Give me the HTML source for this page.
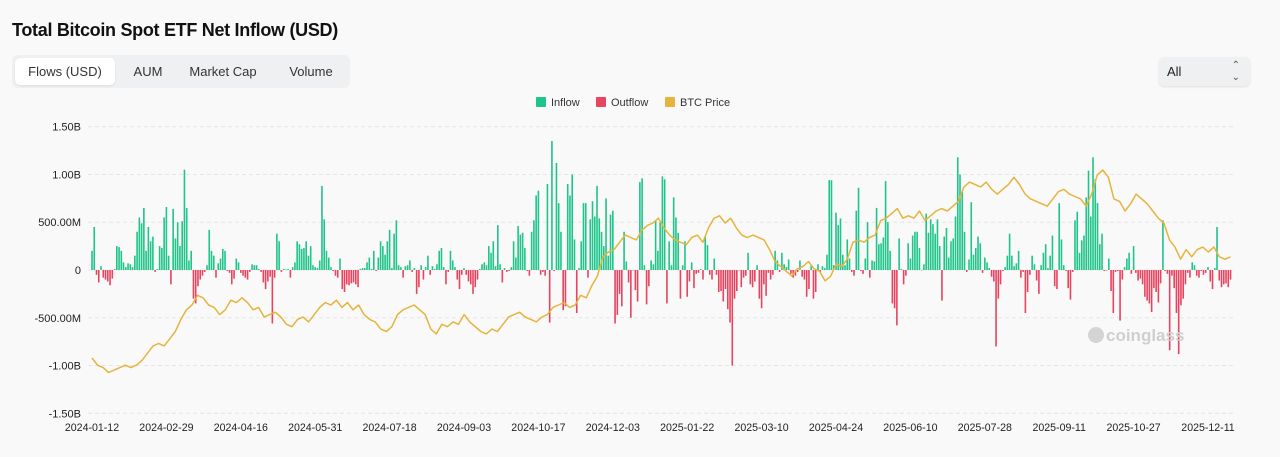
<!DOCTYPE html>
<html><head><meta charset="utf-8"><style>
body{margin:0;width:1280px;height:457px;background:#f9f9f9;font-family:"Liberation Sans",sans-serif;overflow:hidden;position:relative}
.title{position:absolute;left:12px;top:20px;font-size:18px;font-weight:bold;color:#111;letter-spacing:-0.3px}
.tabs{position:absolute;left:12px;top:55px;width:338px;height:33px;background:#eef0f2;border-radius:6px}
.tab{position:absolute;top:3px;height:27px;line-height:27px;font-size:13px;color:#333;text-align:center}
.tab.active{background:#fff;border-radius:5px;box-shadow:0 1px 2px rgba(0,0,0,.08)}
.sel{position:absolute;left:1159px;top:57px;width:91px;height:29px;background:#eef0f2;border-radius:5px;font-size:13px;line-height:29px;color:#222;box-shadow:0 1px 2px rgba(0,0,0,.1)}
</style></head><body>
<div class="title">Total Bitcoin Spot ETF Net Inflow (USD)</div>
<div class="tabs">
<div class="tab active" style="left:3px;width:100px">Flows (USD)</div>
<div class="tab" style="left:108px;width:56px">AUM</div>
<div class="tab" style="left:166px;width:90px">Market Cap</div>
<div class="tab" style="left:260px;width:78px">Volume</div>
</div>
<div class="sel"><span style="margin-left:8px">All</span><span style="position:absolute;right:10px;top:-6px;font-size:10px;color:#555">⌃</span><span style="position:absolute;right:10px;top:6px;font-size:10px;color:#555">⌄</span></div>
<svg id="chart" width="1280" height="457" style="position:absolute;left:0;top:0"></svg>
<script>
const yTicks=[1500,1000,500,0,-500,-1000,-1500];
const yTickLabels=["1.50B","1.00B","500.00M","0","-500.00M","-1.00B","-1.50B"];
const xTickLabels=["2024-01-12","2024-02-29","2024-04-16","2024-05-31","2024-07-18","2024-09-03","2024-10-17","2024-12-03","2025-01-22","2025-03-10","2025-04-24","2025-06-10","2025-07-28","2025-09-11","2025-10-27","2025-12-11"];
const flows=[
200,450,-50,-130,40,-80,-100,-120,-160,-90,10,250,240,200,80,30,70,60,30,150,400,550,490,650,200,450,300,350,-20,10,250,230,550,
660,150,-150,640,330,500,250,510,1050,650,100,200,-300,-350,-170,-100,-60,-20,50,420,200,150,-80,70,120,220,200,-10,-30,-150,-90,120,80,
-30,-60,-80,-100,-20,60,50,50,10,-20,-130,-200,-120,-70,-560,-80,380,300,-20,10,5,10,-80,30,80,300,270,220,230,300,150,250,50,
30,20,100,880,530,200,130,30,-10,-60,-80,120,-200,-230,-150,-160,-140,-130,-150,-180,10,20,20,80,130,10,200,-10,130,300,250,160,300,
420,20,380,520,50,30,-80,40,50,100,-20,20,-250,-180,50,-100,30,150,-50,40,10,60,200,230,30,-150,-20,200,100,30,-100,-200,-50,
20,-50,-120,-150,-250,-180,-100,10,60,80,50,250,180,300,40,470,60,-130,20,-20,-10,30,300,130,460,370,390,230,-10,-60,400,520,780,
830,-50,-20,-60,900,-550,1350,-10,1120,700,400,-420,-380,900,780,1000,320,-450,20,300,700,700,-80,530,720,560,880,540,400,250,750,150,580,
620,-560,-470,-250,-380,400,90,-130,-500,0,-210,-330,920,960,50,-360,-170,100,60,520,200,500,980,950,-350,300,50,760,550,390,-300,50,300,
-280,-120,80,-190,-40,-30,10,-100,350,260,-50,-100,120,-50,-230,-220,-330,-200,-410,-550,-1000,-300,-220,0,-180,-80,-60,180,-150,-180,-120,50,-300,
-400,-150,-270,-30,-100,-50,200,100,-20,180,60,30,110,-40,-80,-60,-20,100,-70,-100,-280,-200,50,-300,-230,60,-20,40,20,160,940,940,50,
600,470,540,160,50,320,120,-20,-60,620,860,-10,-40,120,500,-80,100,90,650,270,280,340,930,500,200,-350,-400,-580,330,10,-150,-60,280,
120,360,400,400,230,0,60,590,390,530,480,380,530,250,-320,350,440,130,300,330,560,1180,1000,820,400,-20,110,710,160,230,350,280,-30,
130,80,20,-70,-120,-800,-300,-150,-10,30,150,380,150,40,70,200,-80,-20,-450,-230,-50,150,60,-110,-250,50,180,270,20,150,360,-170,-200,
700,320,50,-10,-190,-310,-20,520,610,180,310,360,760,1040,560,1180,950,700,270,380,-10,-5,120,-220,-450,-20,-10,-530,-100,30,120,180,-40,
250,-30,-110,-90,-150,-280,-320,-350,-440,-190,-230,-340,-140,520,-10,-40,-840,-60,-190,-450,-880,-370,-300,-150,-30,-80,80,50,-60,-80,-10,-50,-30,
30,-120,-200,20,450,-110,-180,-150,-140,-180,-100];
const prices=[46,43,42,40,41,42,43,42,43,45,48,51,52,51,54,57,62,66,68,72,71,68,67,64,66,70,69,71,69,66,67,63,64,65,63,60,59,62,63,61,64,67,69,68,70,67,69,66,68,64,62,61,58,57,59,64,66,67,68,66,64,58,56,60,59,61,60,64,61,59,57,56,58,57,60,63,64,65,63,62,61,63,64,67,68,69,67,68,72,71,76,80,88,90,91,94,97,96,95,99,101,102,104,100,97,95,94,93,96,97,94,100,104,105,102,104,100,97,96,97,96,95,91,86,84,82,80,83,84,86,83,82,78,80,85,84,87,94,95,94,96,97,103,104,106,108,104,105,104,107,103,105,107,108,107,109,111,117,119,118,117,119,116,114,116,118,121,118,114,112,111,110,109,112,115,116,114,113,112,109,114,122,124,121,112,111,107,110,114,112,110,107,104,102,95,92,87,91,88,91,92,90,92,88,87,88];
const NS="http://www.w3.org/2000/svg";
const svg=document.getElementById('chart');
const X0=92,PITCH=74.4/33;
const xOf=i=>X0+i*PITCH;
const yOf=v=>270-v*(143.3/1500);
const yP=p=>358-(p-46)*2.41;
function mk(tag,attrs){const e=document.createElementNS(NS,tag);for(const k in attrs)e.setAttribute(k,attrs[k]);svg.appendChild(e);return e;}
yTicks.forEach((t,i)=>{
 const g=mk('line',{x1:88,x2:1236,y1:yOf(t),y2:yOf(t),stroke:'#e6e6e6','stroke-dasharray':'4 3'});
 
 
 const tx=mk('text',{x:81,y:yOf(t)+4,'text-anchor':'end','font-size':'11','fill':'#222'});
 tx.textContent=yTickLabels[i];
 
 
});
xTickLabels.forEach((l,i)=>{
 const tx=mk('text',{x:xOf(i*33),y:431,'text-anchor':'middle','font-size':'10.6','fill':'#222'});
 tx.textContent=l;
 
 
});
flows.forEach((v,i)=>{
 const y=yOf(Math.max(v,0)),h=Math.abs(yOf(v)-yOf(0));
 const r=mk('rect',{x:xOf(i)-0.8,y:y,width:1.6,height:Math.max(h,0.5),fill:v>=0?'#1fc48a':'#e8435f'});
 
 
});
const step=(flows.length-1)/(prices.length-1);
const pts=prices.map((p,j)=>xOf(j*step).toFixed(1)+','+yP(p).toFixed(1)).join(' ');
const pl=mk('polyline',{points:pts,fill:'none',stroke:'#e6b43c','stroke-width':1.5,'stroke-linejoin':'round'});


const leg=[['Inflow','#1fc48a',536],['Outflow','#e8435f',596],['BTC Price','#e6b43c',665]];
leg.forEach(([t,c,x])=>{
 const r=mk('rect',{x:x,y:97,width:10,height:10,fill:c,rx:1});
 
 
 const tx=mk('text',{x:x+15,y:106,'font-size':'11','fill':'#333'});
 tx.textContent=t;
 
 
});
const wm=mk('text',{x:1106,y:341,'font-size':'17','font-weight':'bold','fill':'#cfcfcf'});
wm.textContent='coinglass';


const wc=mk('circle',{cx:1096,cy:335,r:8,fill:'#d4d4d4'});


</script>
</body></html>
